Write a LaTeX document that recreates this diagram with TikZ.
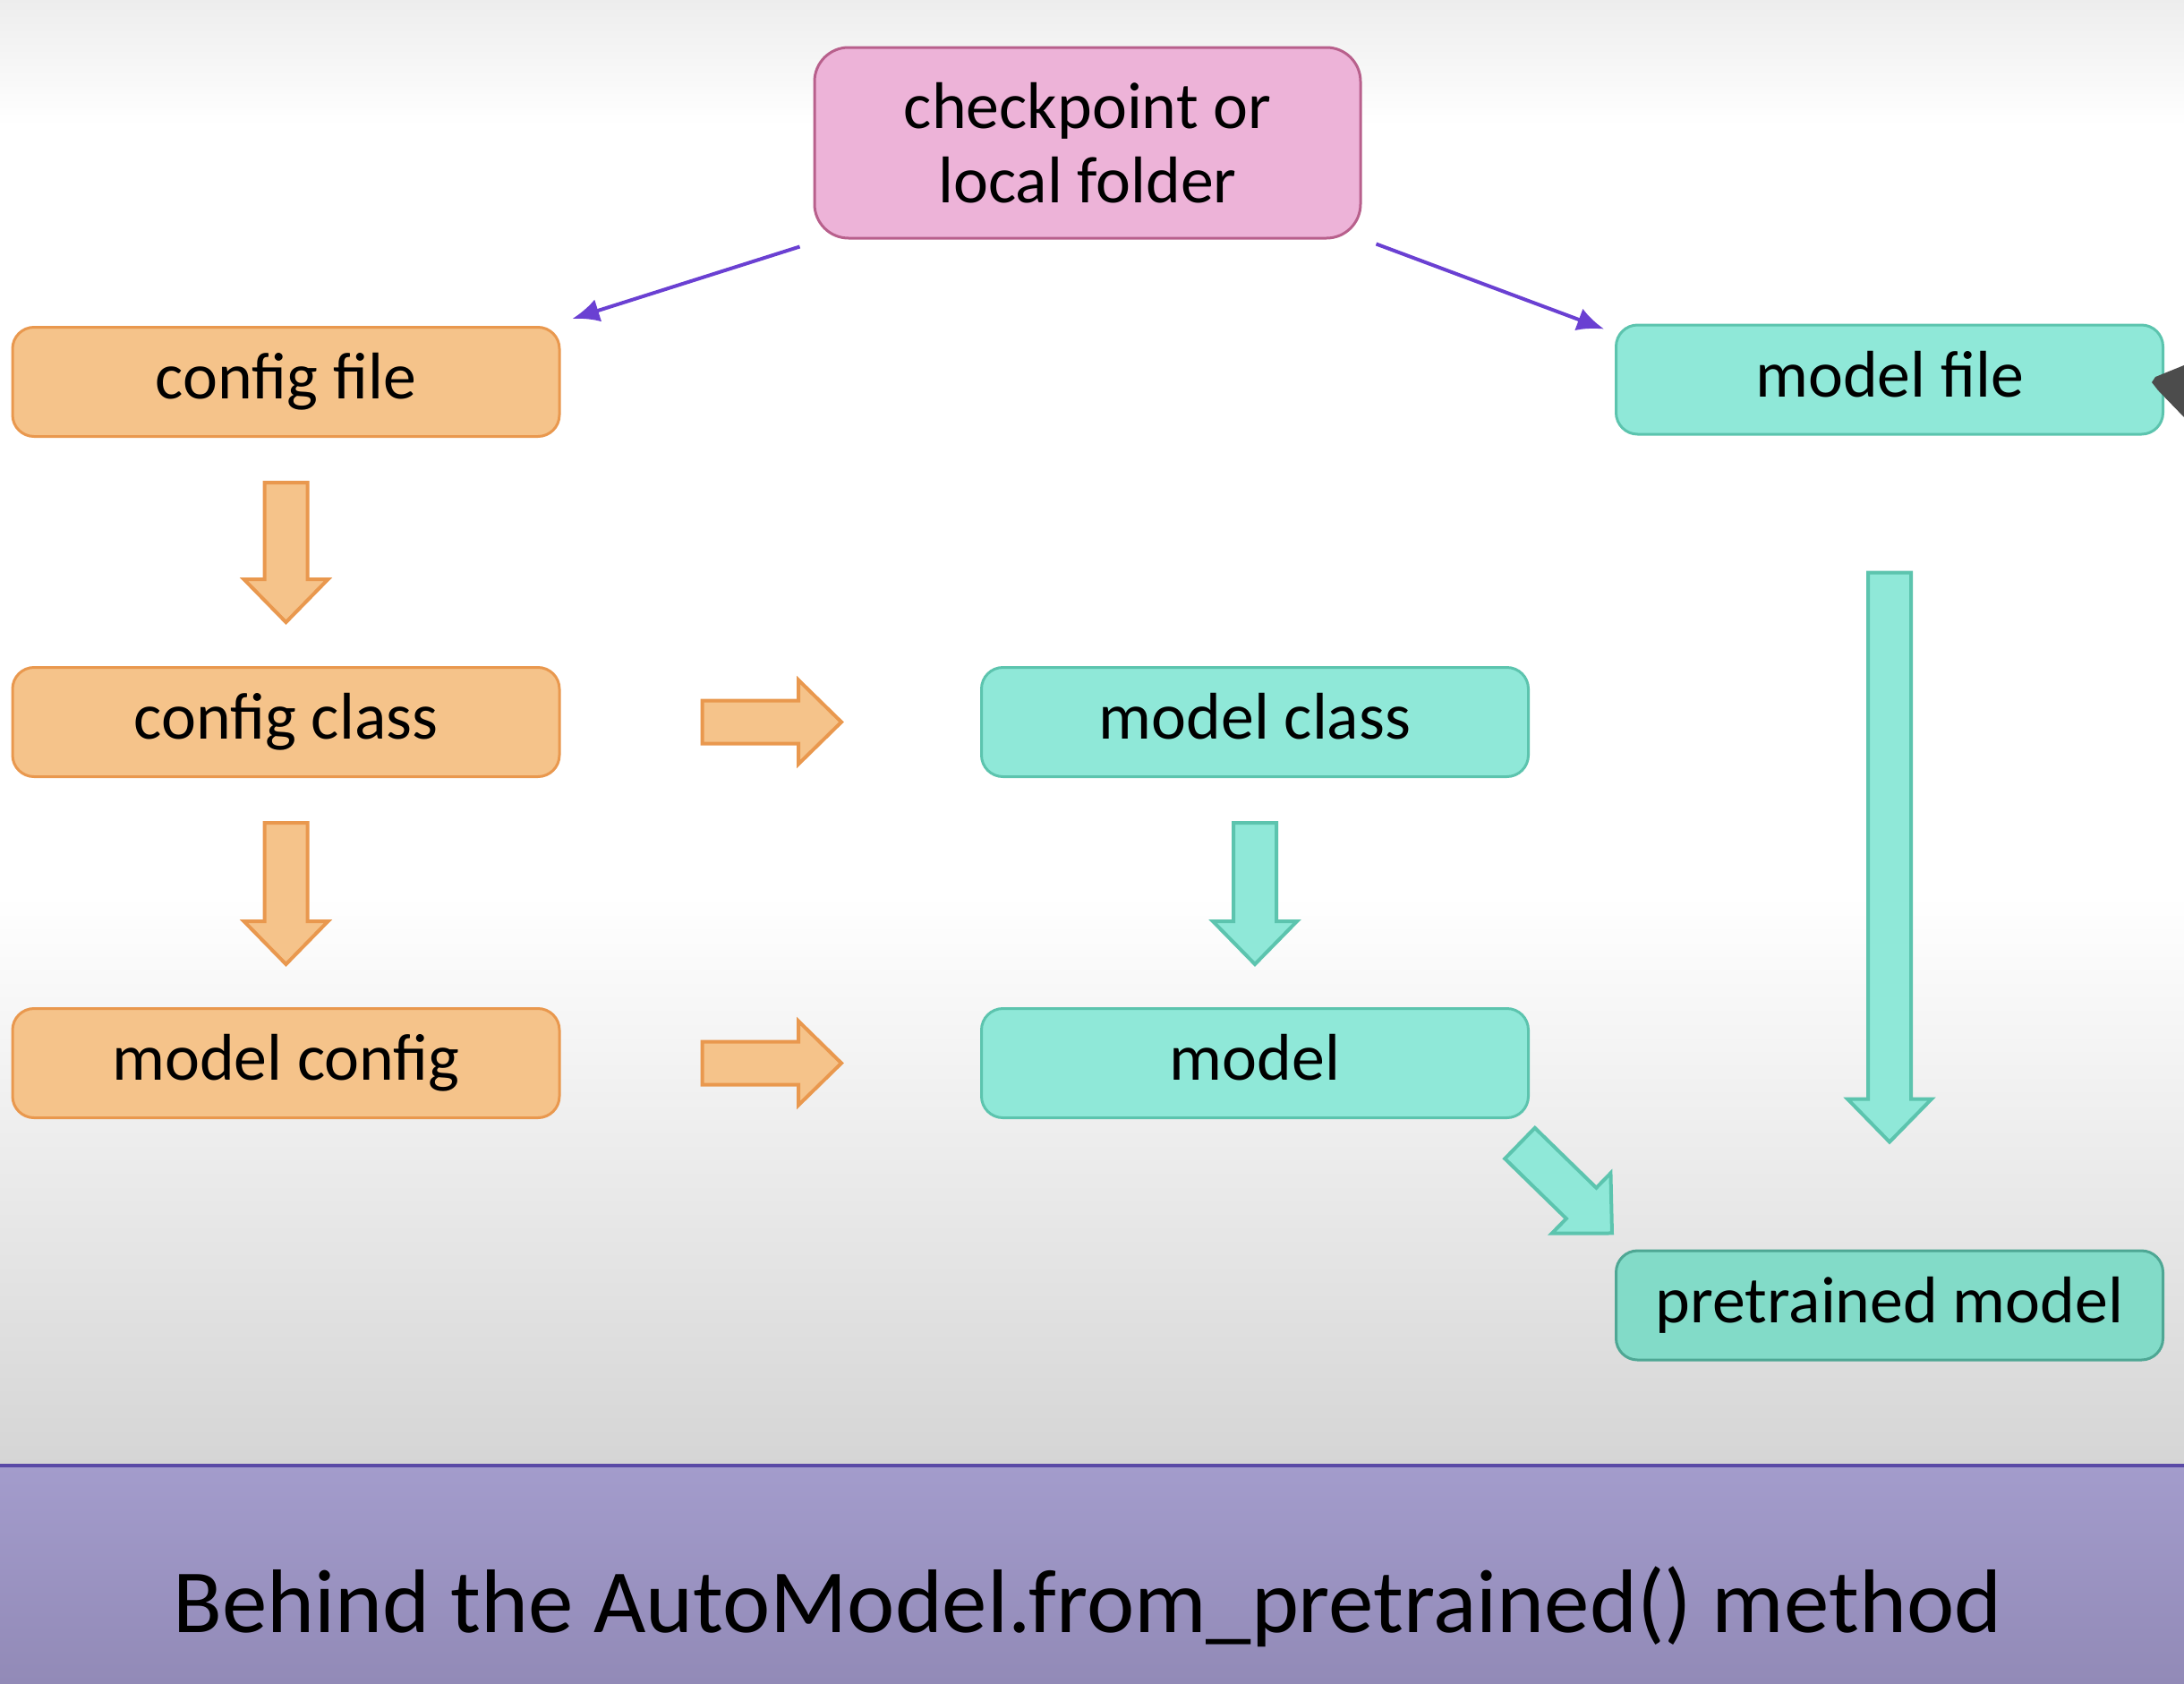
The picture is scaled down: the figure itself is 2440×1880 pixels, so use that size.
\documentclass[tikz,border=0pt]{standalone}
\usepackage{fontspec}
\setmainfont{Carlito}
\usetikzlibrary{calc}
\usetikzlibrary{arrows.meta}
\pgfdeclarelayer{bglayer}
\pgfdeclarelayer{edgelayer}
\pgfdeclarelayer{nodelayer}
\pgfsetlayers{bglayer,edgelayer,nodelayer,main}
\definecolor{orangefill}{HTML}{F5C38A}
\definecolor{orangeline}{HTML}{E9984E}
\definecolor{tealfill}{HTML}{8FE8D8}
\definecolor{tealline}{HTML}{5CC4AE}
\definecolor{tealdark}{HTML}{82DBC8}
\definecolor{pinkfill}{HTML}{EDB3D8}
\definecolor{pinkline}{HTML}{B8608C}
\definecolor{linkpurple}{HTML}{6A40D2}
\definecolor{bggray}{HTML}{D5D5D5}
\definecolor{bandtop}{HTML}{A39CCC}
\definecolor{bandbot}{HTML}{928AB7}
\definecolor{bandline}{HTML}{5A4AA6}
\tikzstyle{box}=[rectangle,rounded corners=2.4mm,minimum width=61.1mm,minimum height=12.2mm,inner sep=0pt,line width=0.3mm,font=\fontsize{21}{24}\selectfont,text height=1.2em,text depth=0.1em]
\tikzstyle{cfgbox}=[box,fill=orangefill,draw=orangeline]
\tikzstyle{mdlbox}=[box,fill=tealfill,draw=tealline]
\tikzstyle{source}=[box,fill=pinkfill,draw=pinkline,minimum width=61mm,minimum height=21.3mm,rounded corners=3.8mm,align=center,text height=,text depth=,font=\fontsize{21}{23.6}\selectfont]
\tikzstyle{link}=[-{Latex[length=3mm,width=2.6mm]},draw=linkpurple,line width=0.4mm]
\tikzstyle{cfgarrow}=[fill=orangefill,draw=orangeline,line width=0.4mm,line join=miter]
\tikzstyle{mdlarrow}=[fill=tealfill,draw=tealline,line width=0.4mm,line join=miter]
% fat arrow from tail point to tip point
\newcommand{\fatarrow}[3]{%
  \path[#1] let \p1=(#2), \p2=(#3), \n1={atan2(\y2-\y1,\x2-\x1)}, \n2={veclen(\x2-\x1,\y2-\y1)} in
    [shift={(\p1)},rotate=\n1] (0pt,-2.4mm) -- ({\n2*1pt-4.8mm},-2.4mm) -- ({\n2*1pt-4.8mm},-4.7mm)
    -- ({\n2*1pt},0pt) -- ({\n2*1pt-4.8mm},4.7mm) -- ({\n2*1pt-4.8mm},2.4mm) -- (0pt,2.4mm) -- cycle;}
\begin{document}
\begin{tikzpicture}[x=0.1mm,y=0.1mm]
	\useasboundingbox (0,0) rectangle (2440,-1880);
	\begin{pgfonlayer}{bglayer}
		\shade[top color=black!7,bottom color=white] (0,0) rectangle (2440,-140);
		\fill[white] (0,-140) rectangle (2440,-1000);
		\shade[top color=white,bottom color=bggray] (0,-1000) rectangle (2440,-1637);
		\shade[top color=bandtop,bottom color=bandbot] (0,-1637) rectangle (2440,-1880);
		\draw[bandline,line width=0.4mm] (0,-1637) -- (2440,-1637);
	\end{pgfonlayer}
	\begin{pgfonlayer}{nodelayer}
		\node [style=source] (0) at (1215, -159.5) {checkpoint or\\local folder};
		\node [style=cfgbox] (1) at (319.5, -426.5) {config file};
		\node [style=mdlbox] (2) at (2111, -424) {model file};
		\node [style=cfgbox] (3) at (319.5, -806.5) {config class};
		\node [style=mdlbox] (4) at (1402, -806.5) {model class};
		\node [style=cfgbox] (5) at (319.5, -1187.5) {model config};
		\node [style=mdlbox] (6) at (1402, -1187.5) {model};
		\node [style=mdlbox, fill=tealdark, draw=tealline!85!black] (7) at (2111, -1458) {pretrained model};
		\node [anchor=base, font=\fontsize{28.7}{34}\selectfont] (8) at (1215, -1823) {Behind the AutoModel.from\_pretrained() method};
	\end{pgfonlayer}
	\begin{pgfonlayer}{edgelayer}
		\draw [style=link] ($(0.south west)+(-15,-8)$) to ($(1.north east)+(13,8)$);
		\draw [style=link] ($(0.south east)+(16,-5)$) to ($(2.north west)+(-12,-6)$);
		\fatarrow{cfgarrow}{$(1.south)+(0,-50)$}{$(3.north)+(0,49)$}
		\fatarrow{cfgarrow}{$(3.south)+(0,-50)$}{$(5.north)+(0,48)$}
		\fatarrow{cfgarrow}{$(3.east)+(158,0)$}{$(4.west)+(-155,0)$}
		\fatarrow{cfgarrow}{$(5.east)+(158,0)$}{$(6.west)+(-155,0)$}
		\fatarrow{mdlarrow}{$(4.south)+(0,-50)$}{$(6.north)+(0,48)$}
		\fatarrow{mdlarrow}{$(2.south)+(0,-153)$}{$(7.north)+(0,120)$}
		\fatarrow{mdlarrow}{$(6.south east)+(-11,-27)$}{$(7.north west)+(-3,18)$}
	\end{pgfonlayer}
	% pointer at the right edge
	\fill[black!70] (2440,-408) -- (2408,-421) -- (2404,-427) -- (2411,-436) -- (2440,-466) -- cycle;
\end{tikzpicture}
\end{document}
